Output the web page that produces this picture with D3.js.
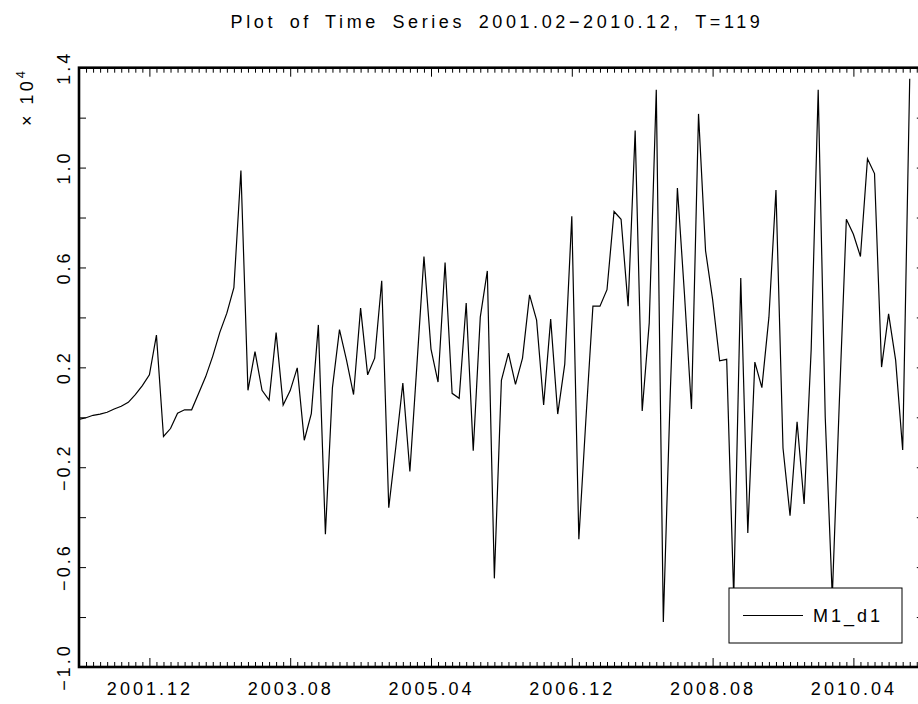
<!DOCTYPE html>
<html>
<head>
<meta charset="utf-8">
<script src="https://cdn.jsdelivr.net/npm/d3@7"></script>
<style>
  html, body { margin: 0; padding: 0; background: #fff; }
  svg text { font-family: "Liberation Sans", Arial, sans-serif; fill: #000; }
</style>
</head>
<body>
<svg id="chart" width="918" height="704"></svg>
<script>
// ---- data (values in units of 10^4) ----
const startLabel = "2001.02";
const endLabel = "2010.12";
const seriesName = "M1_d1";
const values = [
  -0.008, -0.002, 0.008, 0.013, 0.020, 0.033, 0.044, 0.060, 0.091, 0.127,
   0.170, 0.329, -0.077, -0.045, 0.016, 0.030, 0.030, 0.096, 0.163, 0.245,
   0.340, 0.417, 0.519, 0.988, 0.108, 0.263, 0.108, 0.069, 0.339, 0.049,
   0.107, 0.198, -0.092, 0.015, 0.370, -0.468, 0.119, 0.351, 0.229, 0.091,
   0.437, 0.170, 0.237, 0.547, -0.362, -0.120, 0.137, -0.217, 0.210, 0.644,
   0.273, 0.141, 0.620, 0.096, 0.076, 0.458, -0.134, 0.401, 0.586, -0.645,
   0.148, 0.257, 0.132, 0.237, 0.490, 0.389, 0.049, 0.393, 0.013, 0.213,
   0.805, -0.488, -0.010, 0.445, 0.445, 0.511, 0.824, 0.793, 0.445, 1.148,
   0.025, 0.378, 1.312, -0.820, 0.107, 0.918, 0.495, 0.033, 1.215, 0.667,
   0.472, 0.226, 0.232, -0.720, 0.558, -0.463, 0.221, 0.119, 0.401, 0.910,
  -0.123, -0.394, -0.018, -0.347, 0.270, 1.312, 0.000, -0.720, 0.060, 0.793,
   0.733, 0.644, 1.035, 0.976, 0.201, 0.414, 0.229, -0.131, 1.356
];
const xTickLabels = ["2001.12", "2003.08", "2005.04", "2006.12", "2008.08", "2010.04"];
const yTickValues = [-1.0, -0.8, -0.6, -0.4, -0.2, 0.0, 0.2, 0.4, 0.6, 0.8, 1.0, 1.2, 1.4];
const yTickLabels = ["−1.0", "−0.6", "−0.2", "0.2", "0.6", "1.0", "1.4"];
const yLabelValues = [-1.0, -0.6, -0.2, 0.2, 0.6, 1.0, 1.4];

// ---- layout ----
const pL = 79, pR = 923.8, pT = 67.7, pB = 667;
const svg = d3.select("#chart");

function monthIndex(lbl) {
  const [yy, mm] = lbl.split(".").map(Number);
  const [y0, m0] = startLabel.split(".").map(Number);
  return (yy - y0) * 12 + (mm - m0);
}

const x = d3.scaleLinear().domain([0, 120]).range([pL, pR]);
const y = d3.scaleLinear().domain([-1.0, 1.4]).range([pB, pT]);

const allMonths = d3.range(0, 120);
const majorIdx = xTickLabels.map(monthIndex);
const minorIdx = allMonths.filter(i => !majorIdx.includes(i) && i > 0);

function styleAxis(g) {
  g.select(".domain").remove();
  g.selectAll("line").attr("stroke", "#000").attr("stroke-width", 1);
}

// minor + major ticks bottom
svg.append("g").attr("transform", `translate(0,${pB})`)
  .call(d3.axisBottom(x).tickValues(minorIdx).tickSize(-5).tickFormat(""))
  .call(styleAxis);
const bAx = svg.append("g").attr("transform", `translate(0,${pB})`)
  .call(d3.axisBottom(x).tickValues(majorIdx).tickSize(-9).tickPadding(15)
    .tickFormat((d, i) => xTickLabels[i]))
  .call(styleAxis);
bAx.selectAll("text").attr("font-size", 18).attr("letter-spacing", "3px")
  .attr("font-family", "Liberation Sans, Arial, sans-serif").attr("fill", "#000");

// top
svg.append("g").attr("transform", `translate(0,${pT})`)
  .call(d3.axisTop(x).tickValues(minorIdx).tickSize(-5).tickFormat(""))
  .call(styleAxis);
svg.append("g").attr("transform", `translate(0,${pT})`)
  .call(d3.axisTop(x).tickValues(majorIdx).tickSize(-9).tickFormat(""))
  .call(styleAxis);

// left / right ticks
svg.append("g").attr("transform", `translate(${pL},0)`)
  .call(d3.axisLeft(y).tickValues(yTickValues).tickSize(-7).tickFormat(""))
  .call(styleAxis);
svg.append("g").attr("transform", `translate(${pR},0)`)
  .call(d3.axisRight(y).tickValues(yTickValues).tickSize(-7).tickFormat(""))
  .call(styleAxis);

// frame
svg.append("rect").attr("x", pL).attr("y", pT)
  .attr("width", pR - pL).attr("height", pB - pT)
  .attr("fill", "none").attr("stroke", "#000").attr("stroke-width", 2.6);

// y labels (rotated)
svg.append("g").selectAll("text").data(yLabelValues).join("text")
  .attr("transform", d => `translate(70,${y(d)}) rotate(-90)`)
  .attr("text-anchor", "middle")
  .attr("font-size", 18).attr("letter-spacing", "3px")
  .text((d, i) => yTickLabels[i]);

// x 10^4
const sc = svg.append("text")
  .attr("transform", `translate(33,97) rotate(-90)`)
  .attr("text-anchor", "middle").attr("font-size", 18).attr("letter-spacing", "3px");
sc.append("tspan").text("× 10");
sc.append("tspan").attr("dy", -8).attr("font-size", 13).text("4");

// title
svg.append("text").attr("x", 497).attr("y", 28).attr("text-anchor", "middle")
  .attr("font-size", 18).attr("letter-spacing", "3.6px").attr("word-spacing", "5px")
  .text(`Plot of Time Series ${startLabel}−${endLabel}, T=${values.length}`);

// series line
const line = d3.line().x((d, i) => x(i)).y(d => y(d));
svg.append("path").datum(values).attr("d", line)
  .attr("fill", "none").attr("stroke", "#000").attr("stroke-width", 1.2)
  .attr("stroke-linejoin", "miter");

// legend
const lg = svg.append("g");
lg.append("rect").attr("x", 729).attr("y", 588).attr("width", 173).attr("height", 55)
  .attr("fill", "#fff").attr("stroke", "#000").attr("stroke-width", 1);
lg.append("line").attr("x1", 743).attr("x2", 803).attr("y1", 615.5).attr("y2", 615.5)
  .attr("stroke", "#000").attr("stroke-width", 1.2);
lg.append("text").attr("x", 813).attr("y", 622).attr("font-size", 18)
  .attr("letter-spacing", "3px").text(seriesName);
</script>
</body>
</html>
